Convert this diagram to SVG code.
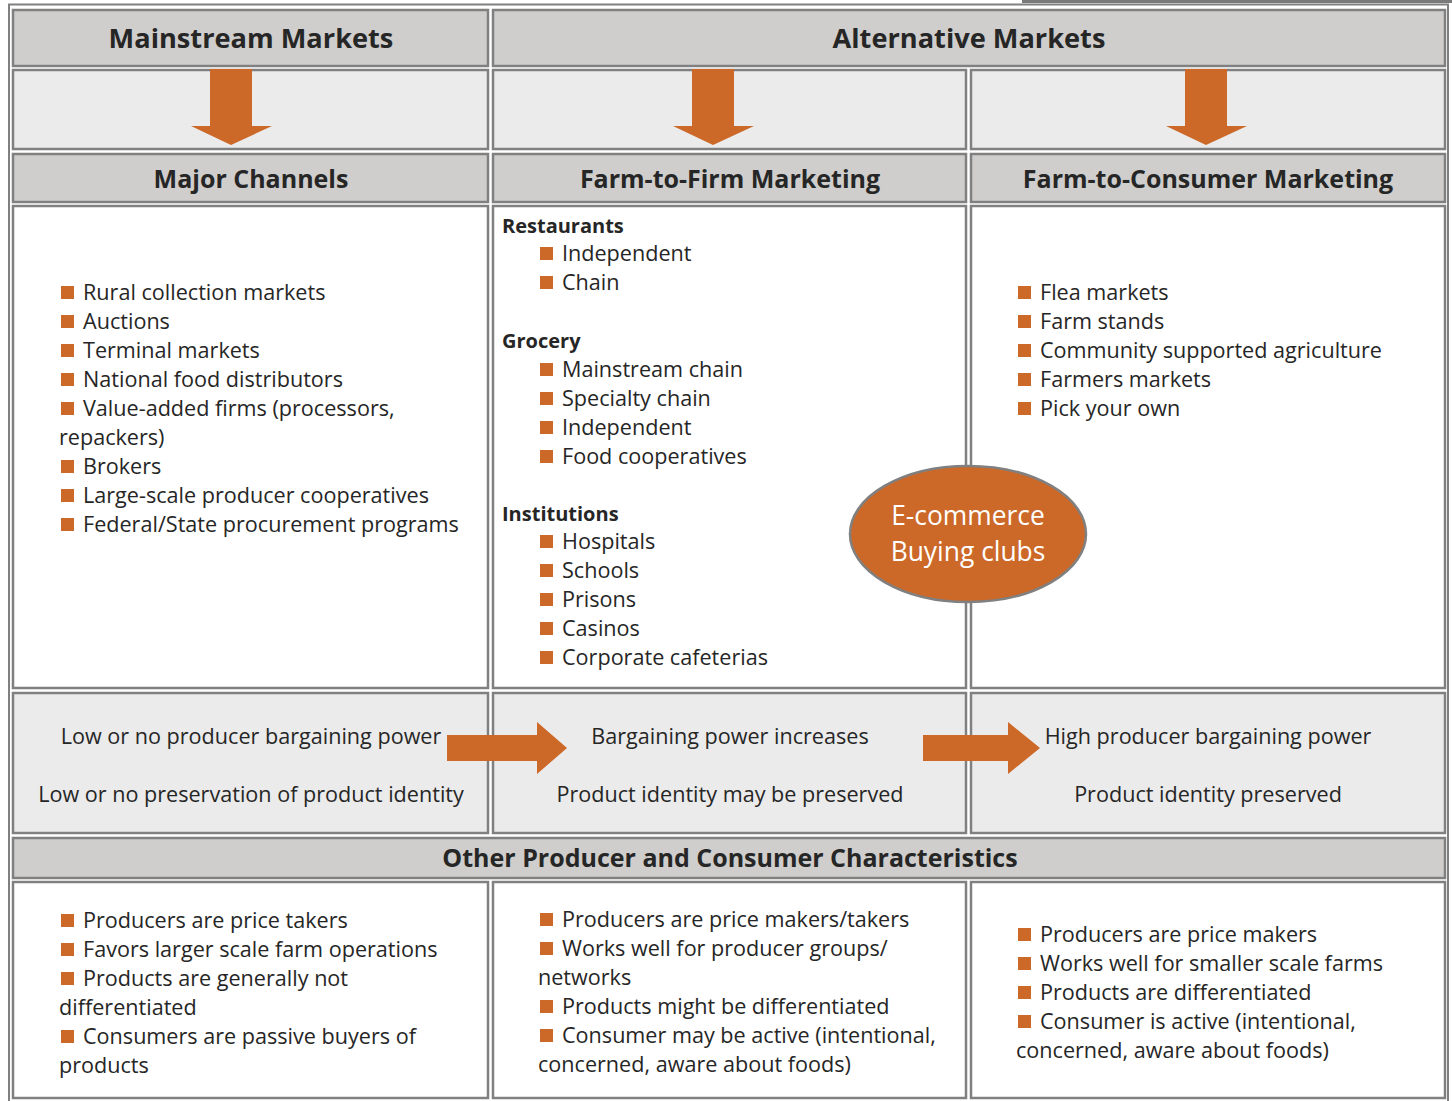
<svg xmlns="http://www.w3.org/2000/svg" width="1452" height="1101" viewBox="0 0 1452 1101">
<style>
.hdr{fill:#cfcecc;stroke:#808080;stroke-width:2.5}
.lt{fill:#ebebeb;stroke:#808080;stroke-width:2.5}
.wh{fill:#ffffff;stroke:#808080;stroke-width:2.5}
.h1{font-family:"Open Sans",Lato,sans-serif;font-weight:bold;font-size:25px;fill:#262626;text-anchor:middle}
.h0{font-size:27.2px}
.b{font-family:"Open Sans",Lato,sans-serif;font-size:21.6px;fill:#262626}
.bb{font-family:"Open Sans",Lato,sans-serif;font-size:20px;font-weight:bold;fill:#262626}
.c{text-anchor:middle}
.bul{fill:#cc6828}
.arr{fill:#cc6828}
.ell{font-family:"Open Sans",Lato,sans-serif;font-size:26.4px;fill:#ffffff;text-anchor:middle}
</style>
<defs>
<rect id="sq" width="13" height="13" class="bul"/>
</defs>
<rect x="0" y="0" width="1452" height="1101" fill="#ffffff"/>
<rect x="1022" y="0" width="430" height="3" fill="#7a7a7a"/>
<rect x="9" y="4.5" width="1439" height="1100" fill="none" stroke="#808080" stroke-width="2"/>

<g id="mainstream-header">
<rect class="hdr" x="13" y="10" width="475" height="56"/>
<text class="h1 h0" x="251" y="48">Mainstream Markets</text>
</g>
<g id="alternative-header">
<rect class="hdr" x="493" y="10" width="952" height="56"/>
<text class="h1 h0" x="969" y="48">Alternative Markets</text>
</g>

<g id="arrow-row">
<rect class="lt" x="13" y="70" width="475" height="79"/>
<rect class="lt" x="493" y="70" width="473" height="79"/>
<rect class="lt" x="971" y="70" width="474" height="79"/>
</g>

<g id="major-channels-header">
<rect class="hdr" x="13" y="154" width="475" height="48"/>
<text class="h1" x="251" y="188">Major Channels</text>
</g>
<g id="farm-to-firm-header">
<rect class="hdr" x="493" y="154" width="473" height="48"/>
<text class="h1" x="730" y="188">Farm-to-Firm Marketing</text>
</g>
<g id="farm-to-consumer-header">
<rect class="hdr" x="971" y="154" width="474" height="48"/>
<text class="h1" x="1208" y="188">Farm-to-Consumer Marketing</text>
</g>

<g id="major-channels-list">
<rect class="wh" x="13" y="206" width="475" height="482"/>
<use href="#sq" x="61" y="286"/><text class="b" x="83" y="300">Rural collection markets</text>
<use href="#sq" x="61" y="315"/><text class="b" x="83" y="329">Auctions</text>
<use href="#sq" x="61" y="344"/><text class="b" x="83" y="358">Terminal markets</text>
<use href="#sq" x="61" y="373"/><text class="b" x="83" y="387">National food distributors</text>
<use href="#sq" x="61" y="402"/><text class="b" x="83" y="416">Value-added firms (processors,</text>
<text class="b" x="59" y="445">repackers)</text>
<use href="#sq" x="61" y="460"/><text class="b" x="83" y="474">Brokers</text>
<use href="#sq" x="61" y="489"/><text class="b" x="83" y="503">Large-scale producer cooperatives</text>
<use href="#sq" x="61" y="518"/><text class="b" x="83" y="532">Federal/State procurement programs</text>
</g>

<g id="farm-to-firm-list">
<rect class="wh" x="493" y="206" width="473" height="482"/>
<text class="bb" x="502" y="233">Restaurants</text>
<use href="#sq" x="540" y="247"/><text class="b" x="562" y="261">Independent</text>
<use href="#sq" x="540" y="276"/><text class="b" x="562" y="290">Chain</text>
<text class="bb" x="502" y="348">Grocery</text>
<use href="#sq" x="540" y="363"/><text class="b" x="562" y="377">Mainstream chain</text>
<use href="#sq" x="540" y="392"/><text class="b" x="562" y="406">Specialty chain</text>
<use href="#sq" x="540" y="421"/><text class="b" x="562" y="435">Independent</text>
<use href="#sq" x="540" y="450"/><text class="b" x="562" y="464">Food cooperatives</text>
<text class="bb" x="502" y="521">Institutions</text>
<use href="#sq" x="540" y="535"/><text class="b" x="562" y="549">Hospitals</text>
<use href="#sq" x="540" y="564"/><text class="b" x="562" y="578">Schools</text>
<use href="#sq" x="540" y="593"/><text class="b" x="562" y="607">Prisons</text>
<use href="#sq" x="540" y="622"/><text class="b" x="562" y="636">Casinos</text>
<use href="#sq" x="540" y="651"/><text class="b" x="562" y="665">Corporate cafeterias</text>
</g>

<g id="farm-to-consumer-list">
<rect class="wh" x="971" y="206" width="474" height="482"/>
<use href="#sq" x="1018" y="286"/><text class="b" x="1040" y="300">Flea markets</text>
<use href="#sq" x="1018" y="315"/><text class="b" x="1040" y="329">Farm stands</text>
<use href="#sq" x="1018" y="344"/><text class="b" x="1040" y="358">Community supported agriculture</text>
<use href="#sq" x="1018" y="373"/><text class="b" x="1040" y="387">Farmers markets</text>
<use href="#sq" x="1018" y="402"/><text class="b" x="1040" y="416">Pick your own</text>
</g>

<g id="bargaining-low">
<rect class="lt" x="13" y="693" width="475" height="140"/>
<text class="b c" x="251" y="744">Low or no producer bargaining power</text>
<text class="b c" x="251" y="802">Low or no preservation of product identity</text>
</g>
<g id="bargaining-mid">
<rect class="lt" x="493" y="693" width="473" height="140"/>
<text class="b c" x="730" y="744">Bargaining power increases</text>
<text class="b c" x="730" y="802">Product identity may be preserved</text>
</g>
<g id="bargaining-high">
<rect class="lt" x="971" y="693" width="474" height="140"/>
<text class="b c" x="1208" y="744">High producer bargaining power</text>
<text class="b c" x="1208" y="802">Product identity preserved</text>
</g>

<g id="other-header">
<rect class="hdr" x="13" y="838" width="1432" height="40"/>
<text class="h1" x="730" y="867">Other Producer and Consumer Characteristics</text>
</g>

<g id="chars-mainstream">
<rect class="wh" x="13" y="882" width="475" height="216"/>
<use href="#sq" x="61" y="914"/><text class="b" x="83" y="928">Producers are price takers</text>
<use href="#sq" x="61" y="943"/><text class="b" x="83" y="957">Favors larger scale farm operations</text>
<use href="#sq" x="61" y="972"/><text class="b" x="83" y="986">Products are generally not</text>
<text class="b" x="59" y="1015">differentiated</text>
<use href="#sq" x="61" y="1030"/><text class="b" x="83" y="1044">Consumers are passive buyers of</text>
<text class="b" x="59" y="1073">products</text>
</g>

<g id="chars-firm">
<rect class="wh" x="493" y="882" width="473" height="216"/>
<use href="#sq" x="540" y="913"/><text class="b" x="562" y="927">Producers are price makers/takers</text>
<use href="#sq" x="540" y="942"/><text class="b" x="562" y="956">Works well for producer groups/</text>
<text class="b" x="538" y="985">networks</text>
<use href="#sq" x="540" y="1000"/><text class="b" x="562" y="1014">Products might be differentiated</text>
<use href="#sq" x="540" y="1029"/><text class="b" x="562" y="1043">Consumer may be active (intentional,</text>
<text class="b" x="538" y="1072">concerned, aware about foods)</text>
</g>

<g id="chars-consumer">
<rect class="wh" x="971" y="882" width="474" height="216"/>
<use href="#sq" x="1018" y="928"/><text class="b" x="1040" y="942">Producers are price makers</text>
<use href="#sq" x="1018" y="957"/><text class="b" x="1040" y="971">Works well for smaller scale farms</text>
<use href="#sq" x="1018" y="986"/><text class="b" x="1040" y="1000">Products are differentiated</text>
<use href="#sq" x="1018" y="1015"/><text class="b" x="1040" y="1029">Consumer is active (intentional,</text>
<text class="b" x="1016" y="1058">concerned, aware about foods)</text>
</g>

<g id="connectors">
<polygon class="arr" points="210,69 252,69 252,126 272,126 231,145 191,126 210,126"/>
<polygon class="arr" points="692,69 734,69 734,126 754,126 713,145 673,126 692,126"/>
<polygon class="arr" points="1185,69 1227,69 1227,126 1247,126 1206,145 1166,126 1185,126"/>
<polygon class="arr" points="447,735 537,735 537,722 567,748 537,774 537,761 447,761"/>
<polygon class="arr" points="923,735 1008,735 1008,722 1040,748 1008,774 1008,761 923,761"/>
</g>

<g id="ecommerce">
<ellipse cx="968" cy="534" rx="118" ry="68" fill="#cc6828" stroke="#808080" stroke-width="2.5"/>
<text class="ell" x="968" y="525">E-commerce</text>
<text class="ell" x="968" y="561">Buying clubs</text>
</g>
</svg>
